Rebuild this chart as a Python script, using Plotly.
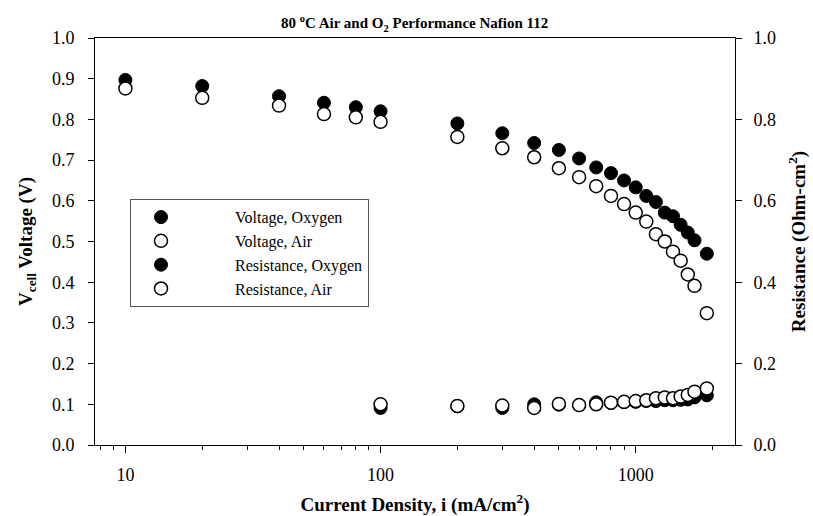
import numpy as np
import plotly.graph_objects as go

# Current density (mA/cm^2)
i_volt = [10, 20, 40, 60, 80, 100, 200, 300, 400, 500, 600, 700, 800, 900, 1000,
          1100, 1200, 1300, 1400, 1500, 1600, 1700, 1900]
v_oxygen = [0.897, 0.882, 0.857, 0.841, 0.830, 0.820, 0.790, 0.766, 0.742, 0.725, 0.704,
            0.682, 0.668, 0.650, 0.633, 0.612, 0.597, 0.571, 0.562, 0.541, 0.522, 0.503, 0.470]
v_air = [0.876, 0.853, 0.834, 0.813, 0.805, 0.794, 0.757, 0.729, 0.707, 0.680, 0.658,
         0.636, 0.612, 0.592, 0.571, 0.549, 0.518, 0.500, 0.475, 0.453, 0.419, 0.391, 0.324]

i_res = [100, 200, 300, 400, 500, 600, 700, 800, 900, 1000, 1100, 1200, 1300, 1400,
         1500, 1600, 1700, 1900]
r_oxygen = [0.091, 0.095, 0.091, 0.100, 0.099, 0.098, 0.105, 0.103, 0.105, 0.106, 0.108,
            0.108, 0.110, 0.110, 0.111, 0.112, 0.117, 0.122]
r_air = [0.100, 0.096, 0.097, 0.091, 0.101, 0.098, 0.100, 0.104, 0.106, 0.108, 0.110,
         0.115, 0.117, 0.115, 0.119, 0.123, 0.131, 0.139]

names = ["Voltage, Oxygen", "Voltage, Air", "Resistance, Oxygen", "Resistance, Air"]

FONT = "Liberation Serif"
MS = 13
PAD = "\u00a0" * 11  # gap between legend symbol and label

fig = go.Figure()
fig.add_trace(go.Scatter(x=i_volt, y=v_oxygen, mode="markers", name=PAD + names[0],
                         marker=dict(symbol="circle", size=MS, color="black",
                                     line=dict(color="black", width=1))))
fig.add_trace(go.Scatter(x=i_volt, y=v_air, mode="markers", name=PAD + names[1],
                         marker=dict(symbol="circle", size=MS, color="white",
                                     line=dict(color="black", width=1.5))))
fig.add_trace(go.Scatter(x=i_res, y=r_oxygen, mode="markers", name=PAD + names[2],
                         yaxis="y2",
                         marker=dict(symbol="circle", size=MS, color="black",
                                     line=dict(color="black", width=1))))
fig.add_trace(go.Scatter(x=i_res, y=r_air, mode="markers", name=PAD + names[3],
                         yaxis="y2",
                         marker=dict(symbol="circle", size=MS, color="white",
                                     line=dict(color="black", width=1.5))))

fig.update_layout(
    width=813, height=516,
    margin=dict(l=95, r=78, t=38, b=71),
    paper_bgcolor="white", plot_bgcolor="white",
    font=dict(family=FONT, color="black", size=18),
    title=dict(text="<b>80 <sup>o</sup>C Air and O<sub>2</sub> Performance Nafion 112</b>",
               x=0.51, xanchor="center", y=0.955, yanchor="middle",
               font=dict(family=FONT, size=15, color="black")),
    xaxis=dict(type="log", range=[np.log10(7.6), np.log10(2450)],
               tickvals=[10, 100, 1000], ticktext=["10", "100", "1000"],
               ticks="outside", ticklen=7, tickwidth=1, tickcolor="black",
               ticklabelstandoff=6, automargin=False,
               showline=True, linecolor="black", linewidth=1, mirror=True,
               showgrid=False, zeroline=False,
               minor=dict(ticks="outside", ticklen=4, tickcolor="black",
                          dtick="D1", showgrid=False),
               tickfont=dict(size=18),
               title=dict(text="<b>Current Density, i (mA/cm<sup>2</sup>)</b>",
                          font=dict(size=19), standoff=14)),
    yaxis=dict(range=[0, 1], dtick=0.1, tickformat=".1f",
               ticks="outside", ticklen=6, tickcolor="black",
               ticklabelstandoff=10, automargin=False,
               showline=True, linecolor="black", linewidth=1,
               showgrid=False, zeroline=False, tickfont=dict(size=18),
               title=dict(text="<b>V<sub>cell</sub> Voltage (V)</b>",
                          font=dict(size=19), standoff=14)),
    yaxis2=dict(range=[0, 1], dtick=0.2, tickformat=".1f", overlaying="y", side="right",
                ticks="outside", ticklen=6, tickcolor="black",
                ticklabelstandoff=8, automargin=False,
                showline=True, linecolor="black", linewidth=1,
                showgrid=False, zeroline=False, tickfont=dict(size=18),
                title=dict(text="<b>Resistance (Ohm-cm<sup>2</sup>)</b>",
                           font=dict(size=19), standoff=16)),
    legend=dict(x=0.0547, y=0.604, xanchor="left", yanchor="top",
                bordercolor="#555555", borderwidth=1, bgcolor="white",
                font=dict(family=FONT, size=16), itemwidth=50,
                tracegroupgap=0),
    showlegend=True,
)

fig.write_html("out.html")
